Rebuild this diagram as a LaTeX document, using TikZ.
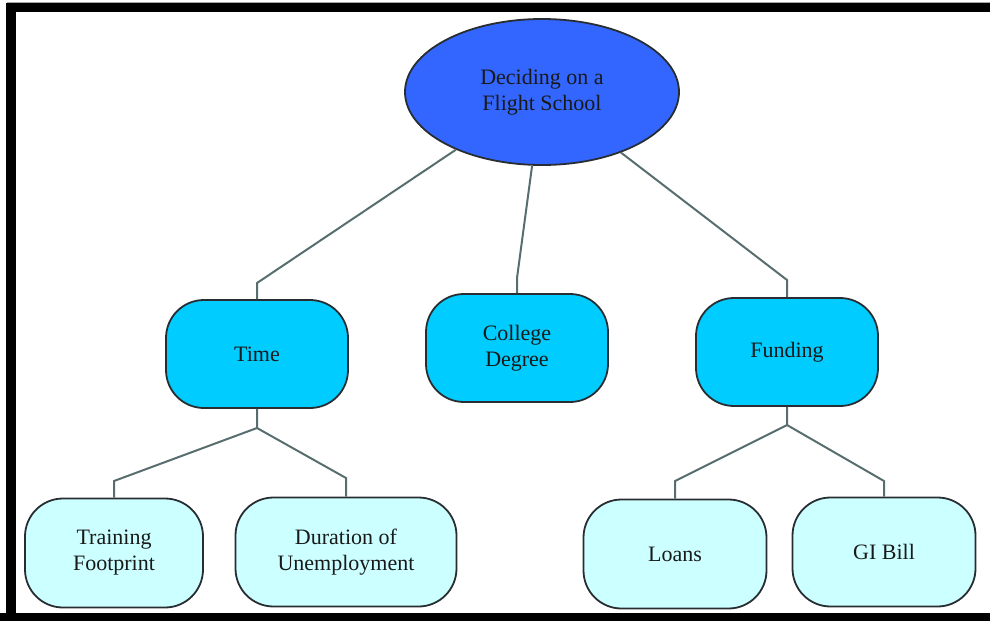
\documentclass[tikz,border=0pt]{standalone}
\usepackage{fontspec}
\setmainfont{Liberation Serif}
\newfontfamily\tnr{Liberation Serif}
\usetikzlibrary{shapes.geometric}
\definecolor{rootblue}{RGB}{51,102,255}
\definecolor{midblue}{RGB}{0,204,255}
\definecolor{leafcyan}{RGB}{204,255,255}
\definecolor{linkgray}{RGB}{88,110,110}
\definecolor{edgegray}{RGB}{40,45,50}
\begin{document}
\begin{tikzpicture}[x=1pt,y=-1pt,
  txt/.style={align=center, font=\tnr\fontsize{22}{26}\selectfont, inner sep=0pt, text=black!90},
  rootnode/.style={txt, ellipse, draw=edgegray, line width=1.8pt, fill=rootblue, minimum width=274pt, minimum height=146pt},
  midbox/.style={txt, draw=edgegray, line width=1.8pt, rounded corners=38pt, fill=midblue, minimum width=182pt, minimum height=108pt},
  leafbox/.style={txt, draw=edgegray, line width=1.8pt, rounded corners=38pt, fill=leafcyan, minimum height=109pt},
  link/.style={draw=linkgray, line width=2pt}]
\useasboundingbox (0,0) rectangle (990,621);
% frame
\fill[gray!70] (7,1.5) rectangle (990,3);
\fill[black] (7,3) rectangle (990,12);
\fill[black] (6,3) rectangle (16,621);
\fill[black] (0,613) rectangle (990,621);
% nodes
\node[rootnode] (root) at (542,92) {Deciding on a\\Flight School};
\node[midbox] (time) at (257,354) {Time};
\node[midbox] (college) at (517,348) {College\\Degree};
\node[midbox] (funding) at (787,352) {Funding};
\node[leafbox, minimum width=178pt] (train) at (114,553) {Training\\Footprint};
\node[leafbox, minimum width=221pt] (dur) at (346,552) {Duration of\\Unemployment};
\node[leafbox, minimum width=183pt] (loans) at (675,554) {Loans};
\node[leafbox, minimum width=183pt] (gi) at (884,552) {GI Bill};
% elbow coordinates
\coordinate (e1) at (257,283);
\coordinate (e2) at (517,278);
\coordinate (e3) at (787,280);
\coordinate (t0) at (257,428);
\coordinate (t1) at (114,481);
\coordinate (t2) at (346,478);
\coordinate (f0) at (787,425);
\coordinate (f1) at (675,481);
\coordinate (f2) at (884,481);
% connectors
\draw[link] (root) -- (e1) -- (time.north);
\draw[link] (root) -- (e2) -- (college.north);
\draw[link] (root) -- (e3) -- (funding.north);
\draw[link] (time.south) -- (t0) -- (t1) -- (train.north);
\draw[link] (t0) -- (t2) -- (dur.north);
\draw[link] (funding.south) -- (f0) -- (f1) -- (loans.north);
\draw[link] (f0) -- (f2) -- (gi.north);
\end{tikzpicture}
\end{document}
